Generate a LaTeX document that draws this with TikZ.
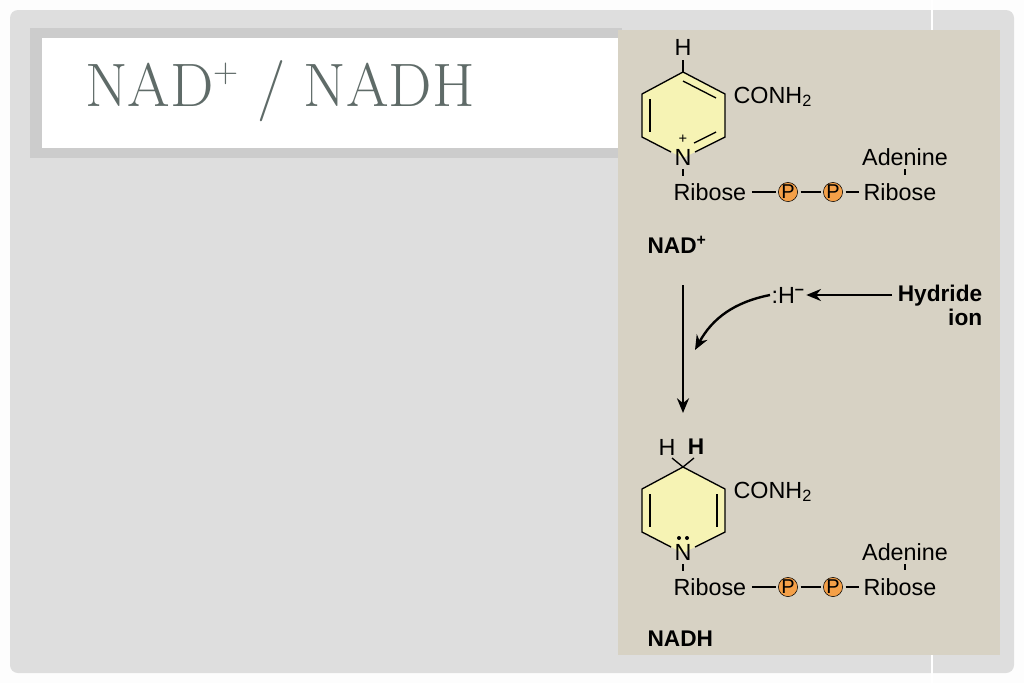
\documentclass[tikz,border=0pt]{standalone}
\usepackage{fontspec}
\setsansfont{Liberation Sans}
\usetikzlibrary{arrows.meta}
\definecolor{slidebg}{HTML}{DEDEDE}
\definecolor{panelbg}{HTML}{D7D2C4}
\definecolor{ringfill}{HTML}{F6F3B4}
\definecolor{pfill}{HTML}{F4A048}
\definecolor{titlegray}{HTML}{5F6B68}
\newcommand{\molecule}[2]{% y-offset, name suffix
  \begin{scope}[shift={(0,#1)}]
  \fill[ringfill] (683,72) -- (725,94) -- (725,137) -- (683,158) -- (642,137) -- (642,94) -- cycle;
  \draw[bond] (683,72) -- (725,94) -- (725,137) -- (695,152);
  \draw[bond] (671,152) -- (642,137) -- (642,94) -- (683,72);
  \node[chem] (ring#2n) at (683,157) {N};
  \node[chem] (ring#2c) at (732,97) [anchor=west] {CONH\textsubscript{2}};
  \draw[bond] (683,169) -- (683,176);
  \node[chem,anchor=west] (rib#2a) at (672,192) {Ribose};
  \node[phos] (p#2a) at (788,192) {P};
  \node[phos] (p#2b) at (833,192) {P};
  \node[chem,anchor=west] (rib#2b) at (862,192) {Ribose};
  \node[chem] (ade#2) at (905,157) {Adenine};
  \draw[bond,shorten <=3pt,shorten >=2pt] (rib#2a.east) -- (p#2a.west);
  \draw[bond,shorten <=2pt,shorten >=2pt] (p#2a) -- (p#2b);
  \draw[bond,shorten <=2pt,shorten >=2pt] (p#2b) -- (rib#2b.west);
  \draw[bond] (905,169) -- (905,175);
  \end{scope}}
\begin{document}
\begin{tikzpicture}
[x=0.75pt,y=-0.75pt,
  chem/.style={font=\sffamily\fontsize{17.5}{17.5}\selectfont,inner sep=1pt},
  bold/.style={font=\sffamily\bfseries\fontsize{17}{17}\selectfont,inner sep=1pt},
  bond/.style={line width=1pt},
  phos/.style={shape=circle,draw,fill=pfill,inner sep=0pt,minimum size=14pt,font=\sffamily\fontsize{15}{15}\selectfont},
  react/.style={-{Stealth[length=11pt,width=9pt]},line width=1.8pt}]
\useasboundingbox (0,0) rectangle (1024,683);
% slide
\fill[white!95!slidebg] (0,0) rectangle (1024,683);
\fill[slidebg,rounded corners=6pt] (10,10) rectangle (1014,673);
\draw[white,line width=1pt] (932,0) -- (932,683);
% title box
\fill[gray!40] (30,28) rectangle (622,158);
\fill[white] (42,38) rectangle (622,148);
\node[font=\fontsize{46}{46}\selectfont,text=titlegray,anchor=base west,inner sep=0pt] (title) at (85,106) {NAD\raisebox{0.9ex}{\fontsize{26}{26}\selectfont+} / NADH};
% panel
\fill[panelbg] (618,30) rectangle (1000,655);
% NAD+
\molecule{0}{A}
\draw[bond] (716,98) -- (683,81);
\draw[bond] (650,99) -- (650,132);
\draw[bond] (716,132) -- (694,143);
\draw[bond] (683,72) -- (683,60);
\node[chem] (hA) at (683,47) {H};
\node[font=\sffamily\fontsize{11}{11}\selectfont] (plusA) at (683,139) {+};
\node[bold,anchor=west] (nadp) at (646,245) {NAD\textsuperscript{+}};
% reaction
\coordinate (down1) at (683,285);
\coordinate (down2) at (683,413);
\draw[react] (down1) -- (down2);
\node[chem,anchor=west] (hyd) at (770,295) {:H\textsuperscript{\textbf{--}}};
\node[bold,align=right] (hydlab) at (940,305) {Hydride\\[1pt]ion};
\draw[react] (hydlab.west |- hyd) ++(-4,0) coordinate (hs) -- (hyd.east);
\draw[react] (hyd.west) to[bend right=25] (695,350);
% NADH
\molecule{395}{B}
\draw[bond] (650,494) -- (650,527);
\draw[bond] (717,494) -- (717,527);
\draw[bond] (683,467) -- (672,458);
\draw[bond] (683,467) -- (694,458);
\node[chem] (hB1) at (667,447) {H};
\node[bold] (hB2) at (696,447) {H};
\fill (679,538) circle (1.5pt) (687,538) circle (1.5pt);
\node[bold,anchor=west] (nadh) at (646,639) {NADH};
\end{tikzpicture}
\end{document}
